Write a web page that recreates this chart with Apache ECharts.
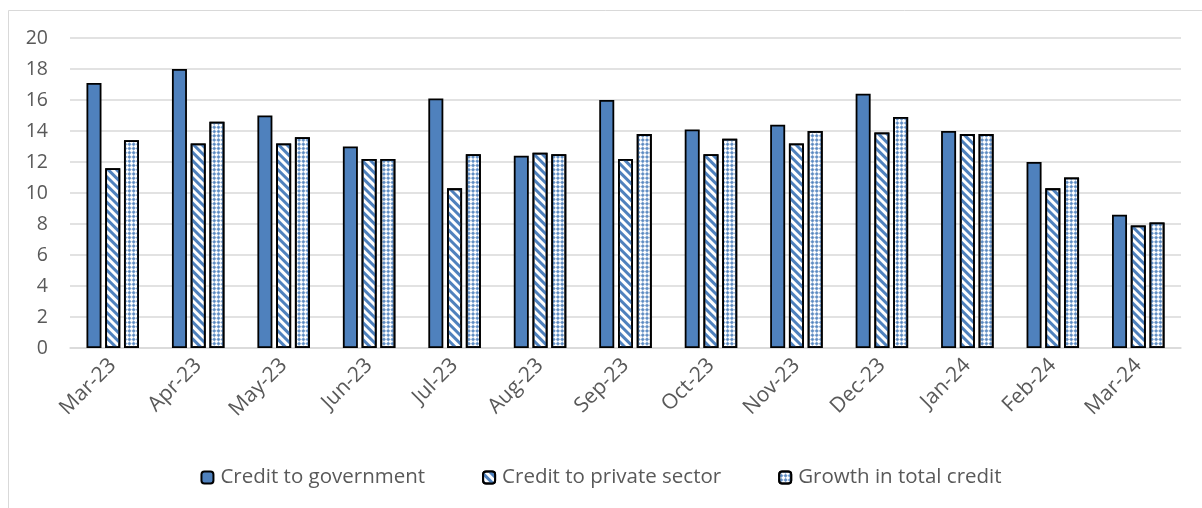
<!DOCTYPE html>
<html>
<head>
<meta charset="utf-8">
<script src="https://cdn.jsdelivr.net/npm/echarts@6/dist/echarts.min.js"></script>
<style>
html,body{margin:0;padding:0;background:#fff;}
#chart{width:1202px;height:508px;}
</style>
</head>
<body>
<div id="chart"></div>
<script>
const categories = ['Mar-23','Apr-23','May-23','Jun-23','Jul-23','Aug-23','Sep-23','Oct-23','Nov-23','Dec-23','Jan-24','Feb-24','Mar-24'];
const creditGovernment = [17.1,18.0,15.0,13.0,16.1,12.4,16.0,14.1,14.4,16.4,14.0,12.0,8.6];
const creditPrivate = [11.6,13.2,13.2,12.2,10.3,12.6,12.2,12.5,13.2,13.9,13.8,10.3,7.9];
const growthTotal = [13.4,14.6,13.6,12.2,12.5,12.5,13.8,13.5,14.0,14.9,13.8,11.0,8.1];
const yTicks = [0,2,4,6,8,10,12,14,16,18,20];

const BLUE = '#4f81bd';
const FONT = '"Open Sans", sans-serif';
const chart = echarts.init(document.getElementById('chart'));
const border = {borderColor:'#000', borderWidth:1.8};
chart.setOption({
  animation:false,
  backgroundColor:'#fff',
  graphic:[{type:'rect', left:6, top:8, shape:{width:1250, height:560}, style:{fill:'none', stroke:'#d9d9d9', lineWidth:1}, silent:true}],
  grid:{left:70, right:21, top:38, bottom:160, containLabel:false},
  legend:{
    bottom:15, left:'center', itemWidth:12, itemHeight:12, itemGap:57,
    textStyle:{fontFamily:FONT, fontSize:20.5, color:'#595959', padding:[0,0,0,2]},
    data:['Credit to government','Credit to private sector','Growth in total credit']
  },
  xAxis:{
    type:'category', data:categories,
    axisLine:{lineStyle:{color:'#d9d9d9', width:1.5}},
    axisTick:{lineStyle:{color:'#d9d9d9', width:1.5}, length:6},
    axisLabel:{rotate:45, fontFamily:FONT, fontSize:21, color:'#595959', margin:14}
  },
  yAxis:{
    type:'value', min:yTicks[0], max:yTicks[yTicks.length-1], interval:2,
    axisLine:{show:false}, axisTick:{show:false},
    splitLine:{lineStyle:{color:'#d9d9d9', width:1.5}},
    axisLabel:{fontFamily:FONT, fontSize:19.5, color:'#595959', margin:22}
  },
  series:[
    {name:'Credit to government', type:'bar', data:creditGovernment, barWidth:15, barGap:'25%',
     itemStyle:Object.assign({color:BLUE}, border)},
    {name:'Credit to private sector', type:'bar', data:creditPrivate, barWidth:15,
     itemStyle:Object.assign({color:'#fff', decal:{symbol:'rect', dashArrayX:[1,0], dashArrayY:[2.2,2.2], rotation:Math.PI/4, color:BLUE}}, border)},
    {name:'Growth in total credit', type:'bar', data:growthTotal, barWidth:15,
     itemStyle:Object.assign({color:'#fff', decal:{symbol:'rect', symbolSize:0.9, dashArrayX:[[2.5,2.5],[0,2.5,2.5,0]], dashArrayY:[2.5,0], rotation:Math.PI/4, color:BLUE}}, border)}
  ]
});
</script>
</body>
</html>
